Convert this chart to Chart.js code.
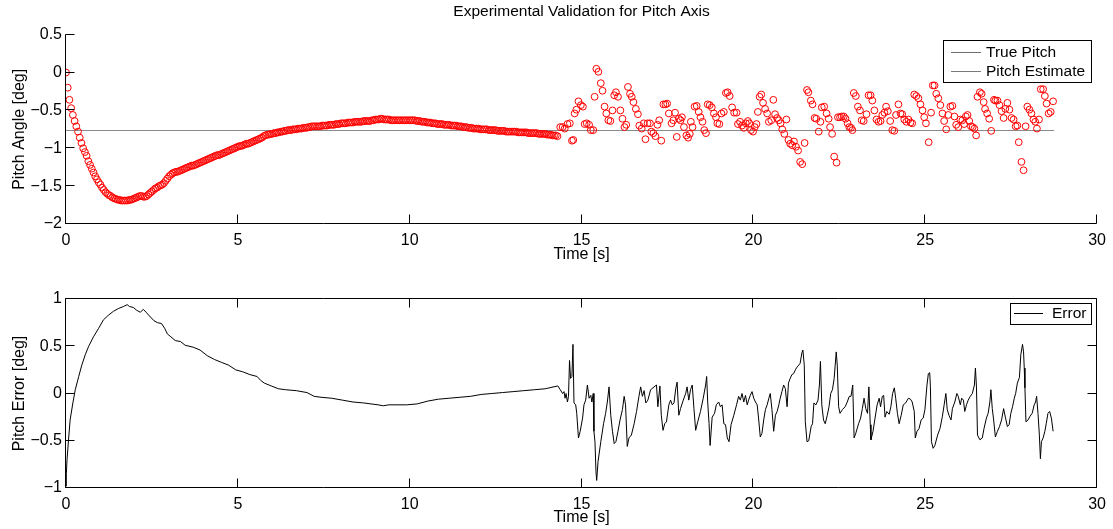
<!DOCTYPE html>
<html><head><meta charset="utf-8">
<script src="https://cdn.jsdelivr.net/npm/chart.js@4.4.1/dist/chart.umd.min.js"></script>
<style>
html,body{margin:0;padding:0;background:#fff;}
#wrap{position:relative;width:1113px;height:529px;background:#fff;}
canvas{position:absolute;left:0;}
</style></head><body>
<div id="wrap">
<canvas id="c1" width="1113" height="270" style="top:0px"></canvas>
<canvas id="c2" width="1113" height="259" style="top:270px"></canvas>
</div>
<script>
// ---------------- DATA ----------------
const titleText = 'Experimental Validation for Pitch Axis';
const xTicks = [0, 5, 10, 15, 20, 25, 30];
const pitchTicks = [-2, -1.5, -1, -0.5, 0, 0.5];
const errorTicks = [-1, -0.5, 0, 0.5, 1];

const trueTime = [0, 28.75];
const truePitch = [-0.765, -0.765];

const estTime = [
0,0.05,0.1,0.15,0.2,0.25,0.3,0.35,0.4,0.45,0.5,0.55,0.6,0.65,0.7,0.75,0.8,0.85,0.9,0.95,
1,1.05,1.1,1.15,1.2,1.25,1.3,1.35,1.4,1.45,1.5,1.55,1.6,1.65,1.7,1.75,1.8,1.85,1.9,1.95,
2,2.05,2.1,2.15,2.2,2.25,2.3,2.35,2.4,2.45,2.5,2.55,2.6,2.65,2.7,2.75,2.8,2.85,2.9,2.95,
3,3.05,3.1,3.15,3.2,3.25,3.3,3.35,3.4,3.45,3.5,3.55,3.6,3.65,3.7,3.75,3.8,3.85,3.9,3.95,
4,4.05,4.1,4.15,4.2,4.25,4.3,4.35,4.4,4.45,4.5,4.55,4.6,4.65,4.7,4.75,4.8,4.85,4.9,4.95,
5,5.05,5.1,5.15,5.2,5.25,5.3,5.35,5.4,5.45,5.5,5.55,5.6,5.65,5.7,5.75,5.8,5.85,5.9,5.95,
6,6.05,6.1,6.15,6.2,6.25,6.3,6.35,6.4,6.45,6.5,6.55,6.6,6.65,6.7,6.75,6.8,6.85,6.9,6.95,
7,7.05,7.1,7.15,7.2,7.25,7.3,7.35,7.4,7.45,7.5,7.55,7.6,7.65,7.7,7.75,7.8,7.85,7.9,7.95,
8,8.05,8.1,8.15,8.2,8.25,8.3,8.35,8.4,8.45,8.5,8.55,8.6,8.65,8.7,8.75,8.8,8.85,8.9,8.95,
9,9.05,9.1,9.15,9.2,9.25,9.3,9.35,9.4,9.45,9.5,9.55,9.6,9.65,9.7,9.75,9.8,9.85,9.9,9.95,
10,10.05,10.1,10.15,10.2,10.25,10.3,10.35,10.4,10.45,10.5,10.55,10.6,10.65,10.7,10.75,10.8,10.85,10.9,10.95,
11,11.05,11.1,11.15,11.2,11.25,11.3,11.35,11.4,11.45,11.5,11.55,11.6,11.65,11.7,11.75,11.8,11.85,11.9,11.95,
12,12.05,12.1,12.15,12.2,12.25,12.3,12.35,12.4,12.45,12.5,12.55,12.6,12.65,12.7,12.75,12.8,12.85,12.9,12.95,
13,13.05,13.1,13.15,13.2,13.25,13.3,13.35,13.4,13.45,13.5,13.55,13.6,13.65,13.7,13.75,13.8,13.85,13.9,13.95,
14,14.05,14.1,14.15,14.2,14.25,14.3,
14.38,14.45,14.51,14.59,14.66,14.72,14.76,14.8,14.85,14.91,14.98,15.04,15.09,15.15,15.22,15.27,15.34,15.38,15.43,15.49,
15.56,15.61,15.67,15.72,15.78,15.84,15.9,15.95,16,16.06,16.13,16.19,16.25,16.3,16.35,16.41,16.46,16.51,16.58,16.64,
16.68,16.75,16.81,16.86,16.92,16.99,17.03,17.09,17.15,17.21,17.26,17.32,17.38,17.44,17.49,17.54,17.62,17.67,17.72,17.77,
17.83,17.88,17.92,17.98,18.05,18.1,18.15,18.18,18.23,18.29,18.35,18.41,18.46,18.52,18.57,18.62,18.67,18.73,18.79,18.85,
18.91,18.95,19.01,19.07,19.14,19.2,19.25,19.31,19.38,19.44,19.51,19.55,19.61,19.67,19.72,19.78,19.84,19.88,19.93,19.99,
20.04,20.09,20.13,20.18,20.23,20.28,20.34,20.4,20.45,20.52,20.58,20.63,20.69,20.74,20.79,20.84,20.9,20.96,21.02,21.07,
21.13,21.18,21.24,21.3,21.36,21.42,21.49,21.56,21.6,21.67,21.72,21.78,21.83,21.9,21.95,21.99,22.06,22.13,22.19,22.23,
22.29,22.35,22.42,22.46,22.52,22.57,22.63,22.68,22.74,22.79,22.84,22.88,22.92,22.98,23.04,23.1,23.15,23.21,23.29,23.35,
23.41,23.46,23.52,23.58,23.64,23.7,23.75,23.81,23.86,23.91,23.98,24.04,24.1,24.15,24.22,24.28,24.33,24.39,24.45,24.51,
24.57,24.62,24.68,24.74,24.8,24.86,24.92,24.97,25.02,25.1,25.17,25.22,25.27,25.32,25.38,25.44,25.5,25.55,25.61,25.67,
25.73,25.79,25.85,25.9,25.96,26.02,26.08,26.13,26.18,26.23,26.28,26.33,26.38,26.43,26.48,26.52,26.59,26.64,26.7,26.74,
26.8,26.86,26.92,27,27.04,27.1,27.16,27.22,27.28,27.33,27.39,27.45,27.51,27.57,27.63,27.68,27.72,27.8,27.86,27.92,
27.97,28.03,28.09,28.15,28.2,28.25,28.31,28.36,28.43,28.48,28.53,28.59,28.65,28.72
];
const estPitch = [
0,-0.20,-0.36,-0.47,-0.56,-0.64,-0.71,-0.78,-0.86,-0.93,-1.00,-1.05,-1.10,-1.17,-1.22,-1.27,-1.32,-1.37,-1.41,-1.45,
-1.48,-1.52,-1.55,-1.58,-1.60,-1.62,-1.63,-1.65,-1.66,-1.67,-1.68,-1.68,-1.69,-1.69,-1.69,-1.69,-1.69,-1.68,-1.68,-1.67,
-1.66,-1.65,-1.64,-1.63,-1.63,-1.64,-1.64,-1.63,-1.61,-1.59,-1.57,-1.55,-1.53,-1.52,-1.50,-1.49,-1.48,-1.46,-1.43,-1.40,
-1.37,-1.35,-1.33,-1.32,-1.31,-1.31,-1.30,-1.29,-1.28,-1.27,-1.26,-1.25,-1.24,-1.23,-1.23,-1.22,-1.21,-1.20,-1.19,-1.18,
-1.17,-1.16,-1.15,-1.14,-1.13,-1.12,-1.11,-1.10,-1.09,-1.09,-1.08,-1.07,-1.06,-1.05,-1.04,-1.03,-1.02,-1.01,-1.00,-0.99,
-0.98,-0.97,-0.97,-0.96,-0.95,-0.94,-0.94,-0.93,-0.92,-0.91,-0.90,-0.89,-0.88,-0.87,-0.86,-0.84,-0.83,-0.82,-0.82,-0.81,
-0.81,-0.80,-0.80,-0.79,-0.79,-0.78,-0.78,-0.77,-0.77,-0.76,-0.76,-0.76,-0.75,-0.75,-0.75,-0.74,-0.74,-0.74,-0.73,-0.73,
-0.73,-0.72,-0.72,-0.71,-0.71,-0.71,-0.71,-0.71,-0.71,-0.70,-0.70,-0.70,-0.70,-0.69,-0.69,-0.69,-0.69,-0.68,-0.68,-0.68,
-0.67,-0.67,-0.67,-0.67,-0.66,-0.66,-0.66,-0.66,-0.65,-0.65,-0.65,-0.65,-0.65,-0.64,-0.64,-0.64,-0.64,-0.64,-0.63,-0.63,
-0.62,-0.62,-0.62,-0.61,-0.61,-0.62,-0.62,-0.62,-0.62,-0.63,-0.63,-0.63,-0.63,-0.63,-0.63,-0.63,-0.63,-0.63,-0.63,-0.63,
-0.63,-0.63,-0.63,-0.63,-0.64,-0.64,-0.64,-0.65,-0.65,-0.65,-0.66,-0.66,-0.66,-0.67,-0.67,-0.67,-0.68,-0.68,-0.68,-0.68,
-0.69,-0.69,-0.69,-0.69,-0.70,-0.70,-0.70,-0.70,-0.71,-0.71,-0.71,-0.72,-0.72,-0.72,-0.73,-0.73,-0.73,-0.74,-0.74,-0.74,
-0.74,-0.75,-0.75,-0.75,-0.75,-0.75,-0.76,-0.76,-0.76,-0.76,-0.76,-0.77,-0.77,-0.77,-0.77,-0.77,-0.78,-0.78,-0.78,-0.78,
-0.78,-0.78,-0.78,-0.79,-0.79,-0.79,-0.79,-0.79,-0.79,-0.80,-0.80,-0.80,-0.80,-0.80,-0.80,-0.81,-0.81,-0.81,-0.81,-0.81,
-0.82,-0.82,-0.82,-0.83,-0.83,-0.83,-0.84,
-0.72,-0.72,-0.74,-0.68,-0.67,-0.90,-0.89,-0.54,-0.49,-0.38,-0.43,-0.45,-0.68,-0.67,-0.69,-0.76,-0.76,-0.32,0.05,0.01,
-0.14,-0.24,-0.45,-0.54,-0.63,-0.64,-0.50,-0.30,-0.26,-0.32,-0.50,-0.61,-0.72,-0.69,-0.19,-0.28,-0.32,-0.39,-0.48,-0.55,
-0.70,-0.74,-0.67,-0.88,-0.67,-0.67,-0.78,-0.80,-0.84,-0.69,-0.63,-0.90,-0.42,-0.42,-0.41,-0.54,-0.67,-0.63,-0.53,-0.85,
-0.61,-0.63,-0.59,-0.72,-0.83,-0.86,-0.81,-0.65,-0.72,-0.45,-0.44,-0.52,-0.59,-0.65,-0.76,-0.80,-0.42,-0.43,-0.46,-0.54,
-0.59,-0.67,-0.68,-0.54,-0.52,-0.27,-0.26,-0.31,-0.46,-0.53,-0.53,-0.68,-0.65,-0.70,-0.73,-0.67,-0.64,-0.67,-0.76,-0.78,
-0.72,-0.68,-0.52,-0.32,-0.29,-0.40,-0.48,-0.54,-0.65,-0.63,-0.36,-0.55,-0.60,-0.63,-0.67,-0.75,-0.81,-0.62,-0.89,-0.94,
-0.96,-0.91,-0.98,-1.03,-1.18,-1.21,-0.93,-0.23,-0.26,-0.37,-0.42,-0.60,-0.61,-0.78,-0.65,-0.46,-0.45,-0.54,-0.61,-0.72,
-0.81,-1.11,-1.19,-0.59,-0.59,-0.58,-0.58,-0.61,-0.67,-0.72,-0.73,-0.76,-0.27,-0.31,-0.45,-0.50,-0.63,-0.64,-0.55,-0.30,
-0.30,-0.37,-0.50,-0.62,-0.65,-0.64,-0.56,-0.53,-0.45,-0.51,-0.64,-0.76,-0.77,-0.56,-0.42,-0.54,-0.55,-0.62,-0.65,-0.62,
-0.66,-0.67,-0.29,-0.31,-0.34,-0.42,-0.50,-0.59,-0.67,-0.92,-0.53,-0.17,-0.17,-0.28,-0.34,-0.43,-0.54,-0.64,-0.75,-0.56,
-0.45,-0.44,-0.58,-0.69,-0.72,-0.62,-0.63,-0.68,-0.58,-0.56,-0.64,-0.71,-0.72,-0.74,-0.83,-0.32,-0.26,-0.28,-0.39,-0.48,
-0.54,-0.61,-0.77,-0.36,-0.37,-0.37,-0.43,-0.51,-0.60,-0.48,-0.40,-0.49,-0.60,-0.62,-0.71,-0.70,-0.92,-1.18,-1.29,-0.71,
-0.45,-0.49,-0.54,-0.62,-0.65,-0.74,-0.62,-0.22,-0.22,-0.31,-0.41,-0.54,-0.52,-0.38
];

const errTime = [
0,0.01,0.03,0.08,0.12,0.2,0.27,0.37,0.46,0.56,0.66,0.8,0.95,1.09,1.24,1.38,1.53,1.67,1.78,1.85,
1.96,2.06,2.16,2.25,2.33,2.43,2.56,2.66,2.78,2.87,2.95,3.05,3.18,3.33,3.47,3.7,3.9,4.11,4.32,4.52,
4.73,4.94,5.14,5.35,5.56,5.66,5.77,5.97,6.18,6.39,6.7,7.01,7.22,7.42,7.73,8.04,8.35,8.66,8.87,9.08,
9.23,9.39,9.6,9.91,10.22,10.53,10.84,11.15,11.46,11.77,12.08,12.39,12.7,13.01,13.32,13.63,13.94,14.31,
14.38,14.45,14.49,14.52,14.55,14.59,14.62,14.65,14.68,14.72,14.75,14.78,14.83,14.86,14.91,14.96,15.03,15.07,15.12,15.17,
15.22,15.27,15.3,15.34,15.36,15.39,15.42,15.44,15.48,15.56,15.64,15.7,15.75,15.8,15.85,15.9,15.95,16,16.06,16.12,
16.19,16.24,16.28,16.33,16.38,16.45,16.53,16.6,16.67,16.72,16.77,16.82,16.87,16.93,17.01,17.11,17.18,17.22,17.28,17.32,
17.37,17.42,17.47,17.54,17.59,17.64,17.69,17.74,17.78,17.83,17.88,17.96,18.03,18.07,18.12,18.17,18.22,18.27,18.32,18.38,
18.46,18.54,18.61,18.64,18.67,18.71,18.74,18.8,18.87,18.92,18.99,19.04,19.09,19.14,19.19,19.24,19.29,19.35,19.43,19.51,
19.57,19.62,19.67,19.72,19.77,19.82,19.86,19.91,19.96,20.01,20.06,20.11,20.15,20.2,20.25,20.3,20.35,20.4,20.45,20.49,
20.54,20.59,20.64,20.69,20.74,20.78,20.83,20.88,20.93,20.98,21.02,21.07,21.12,21.17,21.22,21.27,
21.32,21.36,21.41,21.44,21.48,21.51,21.56,21.61,21.68,21.72,21.76,21.82,21.88,21.92,21.95,21.99,22.04,22.09,22.15,22.2,
22.25,22.3,22.35,22.38,22.41,22.44,22.48,22.52,22.59,22.67,22.73,22.79,22.84,22.89,22.93,22.98,23.06,23.12,23.17,23.22,
23.27,23.32,23.36,23.4,23.42,23.48,23.54,23.6,23.66,23.7,23.75,23.79,23.83,23.88,23.95,24,24.05,24.1,24.14,24.19,
24.24,24.3,24.36,24.43,24.51,24.57,24.62,24.68,24.71,24.76,24.82,24.88,24.94,24.99,25.05,25.09,25.13,25.15,25.18,25.23,
25.28,25.36,25.43,25.5,25.55,25.6,25.64,25.69,25.75,25.79,25.86,25.92,25.96,26.02,26.06,26.11,26.15,26.2,26.25,26.31,
26.37,26.43,26.46,26.49,26.52,26.59,26.66,26.71,26.78,26.83,26.88,26.91,26.95,26.99,27.04,27.1,27.16,27.22,27.28,27.33,
27.39,27.44,27.49,27.54,27.59,27.63,27.68,27.74,27.78,27.83,27.86,27.88,27.9,27.93,27.99,28.05,28.11,28.17,28.21,28.24,
28.28,28.32,28.35,28.38,28.43,28.48,28.52,28.57,28.62,28.67,28.72
];
const errValue = [
-0.98,-0.85,-0.70,-0.46,-0.28,-0.10,0.04,0.18,0.30,0.41,0.50,0.60,0.69,0.78,0.83,0.87,0.90,0.92,0.94,0.92,
0.91,0.88,0.86,0.89,0.86,0.82,0.77,0.75,0.74,0.69,0.63,0.60,0.56,0.55,0.51,0.49,0.46,0.40,0.36,0.33,
0.30,0.25,0.23,0.20,0.18,0.14,0.11,0.08,0.05,0.04,0.03,0.01,-0.03,-0.04,-0.05,-0.07,-0.09,-0.10,-0.11,-0.12,
-0.13,-0.12,-0.12,-0.12,-0.11,-0.08,-0.06,-0.05,-0.04,-0.03,-0.01,0.00,0.01,0.02,0.03,0.04,0.05,0.08,
0.04,0.00,0.02,-0.05,0.00,-0.09,-0.03,0.35,0.16,0.18,0.52,-0.10,-0.12,-0.21,-0.47,-0.40,-0.26,-0.12,-0.07,0.09,
-0.05,-0.02,-0.09,0.00,-0.40,-0.51,-0.83,-0.92,-0.72,-0.51,-0.32,-0.21,-0.09,0.07,-0.23,-0.40,-0.53,-0.51,-0.40,-0.28,
-0.17,-0.03,-0.12,-0.56,-0.47,-0.44,-0.32,-0.19,-0.03,0.07,-0.03,0.03,-0.10,-0.07,0.04,0.07,0.09,-0.14,0.08,-0.23,
-0.39,-0.32,-0.30,-0.12,-0.07,-0.12,-0.10,0.05,0.12,-0.23,-0.16,-0.07,0.00,0.07,-0.07,0.04,0.09,-0.16,-0.39,-0.30,
-0.19,-0.05,0.09,0.18,-0.09,-0.32,-0.55,-0.25,-0.21,-0.12,-0.09,-0.14,-0.12,-0.32,-0.33,-0.47,-0.51,-0.33,-0.23,-0.12,
-0.03,-0.07,0.00,-0.09,-0.02,-0.12,-0.07,-0.02,0.02,-0.05,-0.09,-0.12,-0.26,-0.46,-0.42,-0.28,-0.17,-0.12,-0.05,0.00,
-0.17,-0.40,-0.23,-0.19,-0.12,-0.05,0.02,0.09,0.05,-0.14,0.11,0.16,0.20,0.21,0.25,0.28,
0.30,0.32,0.43,0.46,0.30,-0.30,-0.51,-0.50,-0.35,-0.32,-0.10,-0.12,-0.07,0.09,0.34,-0.12,-0.28,-0.32,-0.23,-0.14,
0.00,0.04,0.16,0.30,0.44,0.30,-0.14,-0.21,-0.17,-0.14,-0.09,-0.03,-0.03,0.09,-0.47,-0.42,-0.32,-0.26,-0.16,-0.05,
-0.16,-0.21,0.07,-0.33,-0.49,-0.40,-0.26,-0.12,-0.05,-0.14,-0.03,-0.02,-0.25,-0.19,-0.22,-0.14,0.00,0.06,-0.05,-0.21,
-0.32,-0.23,-0.12,-0.10,-0.05,-0.06,-0.09,-0.19,-0.47,-0.40,-0.37,-0.28,-0.26,-0.17,0.09,0.21,0.22,0.07,-0.51,-0.58,
-0.55,-0.44,-0.37,-0.24,-0.12,0.00,-0.17,-0.23,-0.28,-0.16,-0.09,0.00,-0.03,-0.12,-0.05,-0.07,-0.19,-0.12,-0.07,-0.03,
0.00,0.09,0.27,0.07,-0.44,-0.49,-0.47,-0.37,-0.26,-0.21,-0.09,0.04,-0.16,-0.28,-0.46,-0.40,-0.35,-0.28,-0.16,-0.25,
-0.35,-0.33,-0.21,-0.14,-0.05,0.00,0.11,0.17,0.41,0.52,0.44,0.27,0.06,-0.30,-0.28,-0.24,-0.21,-0.12,-0.09,-0.03,
-0.21,-0.44,-0.69,-0.51,-0.47,-0.40,-0.32,-0.21,-0.19,-0.26,-0.40
];

// ---------------- RENDERING ----------------
const FAM = "'Liberation Sans', Arial, Helvetica, sans-serif";
Chart.defaults.font.family = FAM;
Chart.defaults.color = '#000';

const minusFmt = v => (v < 0 ? '\u2212' + Math.abs(v) : String(v));

const matlabAxes = {
  id: 'matlabAxes',
  afterDraw(chart, args, o) {
    const {ctx, chartArea: a} = chart;
    const xs = chart.scales.x, ys = chart.scales.y;
    const L = o.tickLen;
    const left = Math.round(a.left) - 0.5, right = Math.round(a.right) - 0.5;
    const top = Math.round(a.top) - 0.5, bottom = Math.round(a.bottom) - 0.5;
    ctx.save();
    ctx.strokeStyle = '#000';
    ctx.lineWidth = 1;
    ctx.beginPath();
    xs.ticks.forEach(t => {
      const px = Math.round(xs.getPixelForValue(t.value)) - 0.5;
      ctx.moveTo(px, bottom); ctx.lineTo(px, bottom - L);
      if (o.box) { ctx.moveTo(px, top); ctx.lineTo(px, top + L); }
    });
    ys.ticks.forEach(t => {
      const py = Math.round(ys.getPixelForValue(t.value)) - 0.5;
      ctx.moveTo(left, py); ctx.lineTo(left + L, py);
      if (o.box) { ctx.moveTo(right, py); ctx.lineTo(right - L, py); }
    });
    ctx.moveTo(left, top); ctx.lineTo(left, bottom); ctx.lineTo(right, bottom);
    if (o.box) { ctx.lineTo(right, top); ctx.lineTo(left, top); }
    ctx.stroke();
    ctx.restore();
  }
};

const boxLegend = {
  id: 'boxLegend',
  afterDraw(chart, args, o) {
    const {ctx, chartArea: a} = chart;
    ctx.save();
    ctx.font = o.fontSize + 'px ' + FAM;
    const tw = Math.max(...o.items.map(it => ctx.measureText(it.text).width));
    const w = Math.round(o.textX + tw + o.padRight);
    const r = Math.round(a.right) - o.rightGap;
    const l = r - w;
    const t = Math.round(a.top) + o.topGap;
    ctx.fillStyle = '#fff';
    ctx.fillRect(l, t, w, o.height);
    ctx.strokeStyle = '#000';
    ctx.lineWidth = 1;
    ctx.strokeRect(l + 0.5, t + 0.5, w, o.height);
    o.items.forEach((it, i) => {
      const y = t + o.firstRow + i * o.rowGap;
      ctx.strokeStyle = it.color;
      ctx.lineWidth = 1;
      ctx.beginPath();
      ctx.moveTo(l + o.lineX0, Math.round(y) + 0.5);
      ctx.lineTo(l + o.lineX1, Math.round(y) + 0.5);
      ctx.stroke();
      ctx.fillStyle = '#000';
      ctx.textBaseline = 'middle';
      ctx.textAlign = 'left';
      ctx.fillText(it.text, l + o.textX, y + 1);
    });
    ctx.restore();
  }
};

function xScale(height, titleBottom) {
  return {
    type: 'linear', min: 0, max: 30,
    afterBuildTicks: s => { s.ticks = xTicks.map(v => ({value: v})); },
    ticks: {font: {size: 16}, color: '#000', padding: 7, maxRotation: 0, autoSkip: false},
    grid: {display: false, drawTicks: false},
    border: {display: false},
    title: {display: true, text: 'Time [s]', font: {size: 16}, color: '#000', padding: {top: 0, bottom: titleBottom}},
    afterFit: s => { s.height = height; }
  };
}
function yScale(min, max, tickVals, label) {
  return {
    type: 'linear', min: min, max: max,
    afterBuildTicks: s => { s.ticks = tickVals.map(v => ({value: v})); },
    ticks: {font: {size: 16}, color: '#000', padding: 4, callback: minusFmt, autoSkip: false},
    grid: {display: false, drawTicks: false},
    border: {display: false},
    title: {display: true, text: label, font: {size: 16}, color: '#000', padding: {top: 10, bottom: 10}},
    afterFit: s => { s.width = 66; }
  };
}

new Chart(document.getElementById('c1'), {
  type: 'scatter',
  data: {
    datasets: [
      {
        label: 'Pitch Estimate',
        data: estTime.map((t, i) => ({x: t, y: estPitch[i]})),
        borderColor: '#ff0000',
        backgroundColor: 'rgba(0,0,0,0)',
        pointRadius: 3.4,
        pointBorderWidth: 1,
        pointHoverRadius: 3.4,
        showLine: false
      },
      {
        label: 'True Pitch',
        type: 'line',
        data: trueTime.map((t, i) => ({x: t, y: truePitch[i]})),
        borderColor: '#8a8a8a',
        borderWidth: 1.2,
        pointRadius: 0,
        fill: false
      }
    ]
  },
  options: {
    responsive: false, animation: false, devicePixelRatio: 1,
    layout: {padding: {left: 0, right: 13, top: 0, bottom: 0}},
    plugins: {
      legend: {display: false},
      tooltip: {enabled: false},
      title: {display: true, text: titleText, fullSize: false, color: '#000',
              font: {size: 15.5, weight: 'normal'}, padding: {top: 2, bottom: 14.1}},
      matlabAxes: {tickLen: 9, box: false},
      boxLegend: {
        items: [{text: 'True Pitch', color: '#6e6e6e'}, {text: 'Pitch Estimate', color: '#7a7a7a'}],
        fontSize: 15.5, height: 42, firstRow: 12, rowGap: 19,
        lineX0: 8, lineX1: 38, textX: 43, padRight: 6, rightGap: 6, topGap: 5
      }
    },
    scales: {
      x: xScale(46, 5.4),
      y: yScale(-2, 0.5, pitchTicks, 'Pitch Angle [deg]')
    }
  },
  plugins: [matlabAxes, boxLegend]
});

new Chart(document.getElementById('c2'), {
  type: 'line',
  data: {
    datasets: [{
      label: 'Error',
      data: errTime.map((t, i) => ({x: t, y: errValue[i]})),
      borderColor: '#000',
      borderWidth: 1,
      pointRadius: 0,
      tension: 0,
      fill: false
    }]
  },
  options: {
    responsive: false, animation: false, devicePixelRatio: 1,
    layout: {padding: {left: 0, right: 13, top: 29, bottom: 0}},
    plugins: {
      legend: {display: false},
      tooltip: {enabled: false},
      matlabAxes: {tickLen: 9, box: true},
      boxLegend: {
        items: [{text: 'Error', color: '#000'}],
        fontSize: 15.5, height: 21, firstRow: 10, rowGap: 19,
        lineX0: 4, lineX1: 33, textX: 42, padRight: 5, rightGap: 6, topGap: 4
      }
    },
    scales: {
      x: xScale(41, 1.4),
      y: yScale(-1, 1, errorTicks, 'Pitch Error [deg]')
    }
  },
  plugins: [matlabAxes, boxLegend]
});
</script>
</body></html>
